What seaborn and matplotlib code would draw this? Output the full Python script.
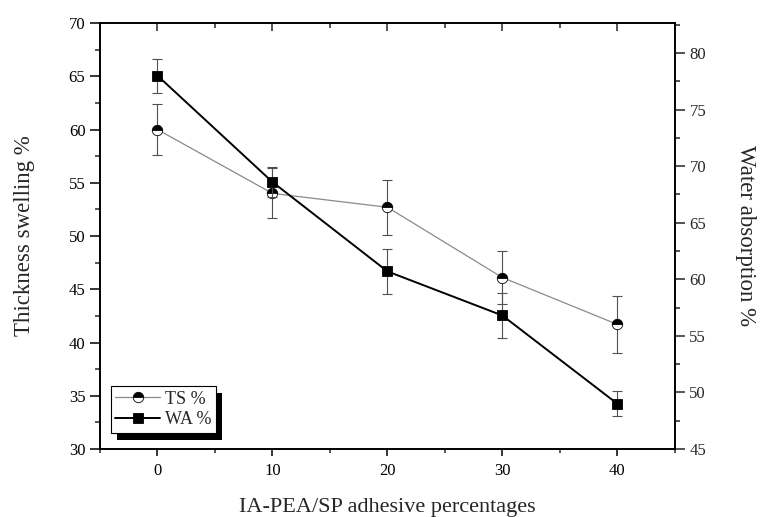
import numpy as np
import pandas as pd
import matplotlib
matplotlib.use('Agg')
import matplotlib.pyplot as plt
import seaborn as sns
from matplotlib.ticker import MultipleLocator
from matplotlib.patches import Rectangle

# --- DATA ---
adhesive_pct = [0, 10, 20, 30, 40]
ts_mean = [60.0, 54.0, 52.7, 46.1, 41.7]
ts_err = [2.4, 2.35, 2.6, 2.45, 2.7]
wa_mean = [78.0, 68.6, 60.7, 56.8, 49.0]
wa_err = [1.5, 1.3, 2.0, 2.0, 1.1]

sns.set_style('ticks')
plt.rcParams['font.family'] = ['Liberation Serif', 'DejaVu Serif']

df = pd.DataFrame({'pct': adhesive_pct, 'ts': ts_mean, 'wa': wa_mean})

fig = plt.figure(figsize=(7.66, 5.17), dpi=100)
ax1 = fig.add_axes([0.1305, 0.1315, 0.7505, 0.824])
ax2 = ax1.twinx()

# error bars first so markers sit on top
ax1.errorbar(adhesive_pct, ts_mean, yerr=ts_err, fmt='none', ecolor='#505050',
             elinewidth=0.8, capsize=3.5, capthick=0.8, zorder=1)
ax2.errorbar(adhesive_pct, wa_mean, yerr=wa_err, fmt='none', ecolor='#505050',
             elinewidth=0.8, capsize=3.5, capthick=0.8, zorder=1)

sns.lineplot(data=df, x='pct', y='ts', ax=ax1, color='#8a8a8a', lw=0.9,
             marker='o', markersize=7.5, fillstyle='top', markerfacecolor='black',
             markerfacecoloralt='white', markeredgecolor='black', markeredgewidth=0.6,
             errorbar=None, label='TS %', legend=False, zorder=3)
sns.lineplot(data=df, x='pct', y='wa', ax=ax2, color='black', lw=1.4,
             marker='s', markersize=6.5, markerfacecolor='black',
             markeredgecolor='black', markeredgewidth=0.6,
             errorbar=None, label='WA %', legend=False, zorder=3)

# axes ranges and ticks
ax1.set_xlim(-5, 45)
ax1.set_ylim(30, 70)
ax2.set_ylim(45, 82.65)
ax1.xaxis.set_major_locator(MultipleLocator(10))
ax1.xaxis.set_minor_locator(MultipleLocator(5))
ax1.yaxis.set_major_locator(MultipleLocator(5))
ax1.yaxis.set_minor_locator(MultipleLocator(2.5))
ax2.yaxis.set_major_locator(MultipleLocator(5))
ax2.yaxis.set_minor_locator(MultipleLocator(2.5))

ax1.tick_params(axis='both', which='major', direction='out', length=7, width=1.1,
                labelsize=12, colors='black')
ax1.tick_params(axis='both', which='minor', direction='out', length=3.5, width=1.1)
ax1.tick_params(axis='x', which='major', length=5, pad=5)
ax1.tick_params(axis='x', which='minor', length=3)
ax1.tick_params(axis='x', which='both', top=False)
ax1.tick_params(axis='y', which='both', right=False)
ax2.tick_params(axis='y', which='major', direction='out', length=7, width=1.1, labelsize=12)
ax2.tick_params(axis='y', which='minor', direction='out', length=3.5, width=1.1)

# inward ticks along the top edge, via the twin's (shared) x axis
ax2.xaxis.set_visible(True)
ax2.set_xlabel('')
ax2.tick_params(axis='x', which='both', bottom=False, top=True, labelbottom=False,
                labeltop=False, direction='in', width=1.1)
ax2.tick_params(axis='x', which='major', length=6)
ax2.tick_params(axis='x', which='minor', length=3.5)

for ax in (ax1, ax2):
    for sp in ax.spines.values():
        sp.set_linewidth(1.2)
        sp.set_color('black')

ax1.set_xlabel('IA-PEA/SP adhesive percentages', fontsize=16, labelpad=14)
ax1.set_ylabel('Thickness swelling %', fontsize=16.5, labelpad=24)
ax2.set_ylabel('Water absorption %', fontsize=16.5, rotation=270, labelpad=36)

# legend with a hard black drop shadow
h1, l1 = ax1.get_legend_handles_labels()
h2, l2 = ax2.get_legend_handles_labels()
leg = ax2.legend(h1 + h2, l1 + l2, loc='lower left', bbox_to_anchor=(0.0186, 0.038),
                 borderaxespad=0, fontsize=13, frameon=True, fancybox=False,
                 edgecolor='black', framealpha=1, handlelength=2.5,
                 handletextpad=0.25, borderpad=0.25, labelspacing=0.2)
leg.get_frame().set_linewidth(0.8)
leg.set_zorder(10)

fig.canvas.draw()
bb = leg.get_window_extent()
inv = ax2.transAxes.inverted()
(x0, y0), (x1, y1) = inv.transform([(bb.x0 + 6, bb.y0 - 7), (bb.x1 + 6, bb.y1 - 7)])
ax2.add_patch(Rectangle((x0, y0), x1 - x0, y1 - y0, transform=ax2.transAxes,
                        facecolor='black', edgecolor='none', clip_on=False, zorder=9))

fig.savefig('out.png', dpi=100)
